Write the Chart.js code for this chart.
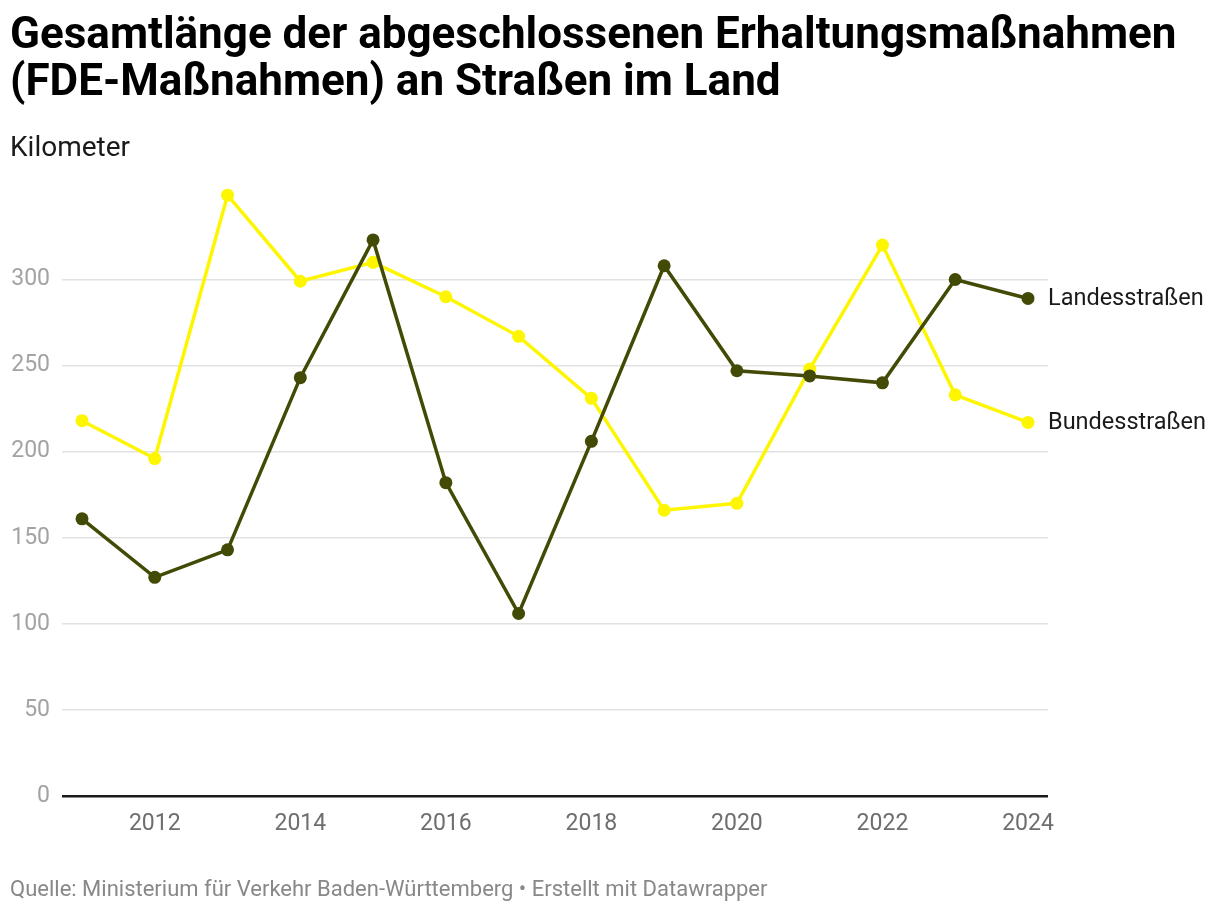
<!DOCTYPE html>
<html><head><meta charset="utf-8">
<script src="https://cdn.jsdelivr.net/npm/chart.js@4"></script>
<style>
html,body{margin:0;padding:0;background:#fff;width:1220px;height:912px;overflow:hidden;font-family:Roboto,sans-serif;}
#title{position:absolute;left:10px;top:10px;font-size:44px;font-weight:700;line-height:47px;color:#000;white-space:nowrap;}
#sub{position:absolute;left:10px;top:133px;font-size:28px;line-height:28px;color:#1a1a1a;}
#foot{position:absolute;left:10px;top:878px;font-size:22px;line-height:22px;color:#888;white-space:nowrap;}
#wrap{position:absolute;left:0;top:0;width:1220px;height:912px;}
</style></head>
<body>
<div id="wrap"><canvas id="c"></canvas></div>
<div id="title">Gesamtlänge der abgeschlossenen Erhaltungsmaßnahmen<br>(FDE-Maßnahmen) an Straßen im Land</div>
<div id="sub">Kilometer</div>
<div id="foot">Quelle: Ministerium für Verkehr Baden-Württemberg • Erstellt mit Datawrapper</div>
<script>
const years = [2011,2012,2013,2014,2015,2016,2017,2018,2019,2020,2021,2022,2023,2024];
const landesstrassen = [161,127,143,243,323,182,106,206,308,247,244,240,300,289];
const bundesstrassen = [218,196,349,299,310,290,267,231,166,170,248,320,233,217];
const xTicks = [2012,2014,2016,2018,2020,2022,2024];
const yTicks = [0,50,100,150,200,250,300];

const seriesLabels = {
  id:'seriesLabels',
  afterDatasetsDraw(chart){
    const ctx = chart.ctx;
    ctx.save();
    ctx.font = '23.5px Roboto';
    ctx.fillStyle = '#1a1a1a';
    ctx.textBaseline = 'middle';
    ctx.textAlign = 'left';
    chart.data.datasets.forEach((ds,i)=>{
      const meta = chart.getDatasetMeta(i);
      const p = meta.data[meta.data.length-1];
      ctx.fillText(ds.label, p.x + 20, p.y + 1);
    });
    ctx.restore();
  }
};

new Chart(document.getElementById('c'), {
  type:'line',
  data:{
    datasets:[
      {label:'Landesstraßen', data:years.map((y,i)=>({x:y,y:landesstrassen[i]})),
       borderColor:'#434a05', backgroundColor:'#434a05', pointBackgroundColor:'#434a05',
       borderWidth:3.5, pointRadius:6.5, pointBorderWidth:0, tension:0, clip:false},
      {label:'Bundesstraßen', data:years.map((y,i)=>({x:y,y:bundesstrassen[i]})),
       borderColor:'#fdf600', backgroundColor:'#fdf600', pointBackgroundColor:'#fdf600',
       borderWidth:3.5, pointRadius:6.5, pointBorderWidth:0, tension:0, clip:false}
    ]
  },
  options:{
    responsive:true, maintainAspectRatio:false, animation:false,
    layout:{padding:{top:190,left:0,right:172,bottom:66}},
    plugins:{legend:{display:false}, tooltip:{enabled:false}},
    scales:{
      x:{type:'linear', min:2010.725, max:2024.275,
         afterBuildTicks(s){ s.ticks = xTicks.map(v=>({value:v})); },
         afterFit(s){ s.height = 50; },
         grid:{display:false, drawTicks:false}, border:{display:false},
         ticks:{padding:14, color:'#6e6e6e', font:{family:'Roboto', size:23}, callback:v=>String(v), maxRotation:0, autoSkip:false}},
      y:{min:0, max:352,
         afterBuildTicks(s){ s.ticks = yTicks.map(v=>({value:v})); },
         afterFit(s){ s.width = 62; },
         border:{display:false},
         grid:{drawTicks:false, color:c=>c.tick.value===0?'#1a1a1a':'#e2e2e2', lineWidth:c=>c.tick.value===0?2.5:1.5},
         ticks:{padding:12, color:'#a3a3a3', font:{family:'Roboto', size:23}}}
    }
  },
  plugins:[seriesLabels]
});
</script>
</body></html>
